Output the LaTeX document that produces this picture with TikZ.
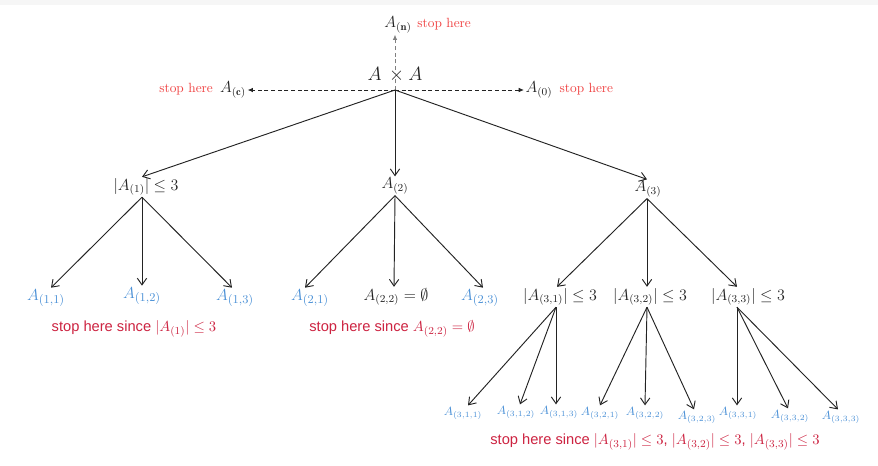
\documentclass[tikz,border=0pt]{standalone}
\usepackage{fontspec}
\newfontfamily\sansred{Liberation Sans}
\usetikzlibrary{arrows.meta,calc}
\definecolor{leafblue}{RGB}{75,145,215}
\definecolor{stopred}{RGB}{205,35,65}
\definecolor{topred}{RGB}{240,65,65}
\definecolor{ink}{RGB}{35,35,35}
\begin{document}
\begin{tikzpicture}[x=0.75pt,y=-0.75pt,
  lbl/.style={inner sep=1pt, text=ink, font=\fontsize{12}{14}\selectfont},
  leaf/.style={inner sep=1pt, text=leafblue, font=\fontsize{12.5}{14}\selectfont},
  sleaf/.style={inner sep=1pt, text=leafblue, font=\fontsize{9}{11}\selectfont},
  note/.style={inner sep=0pt, text=stopred, font=\sansred\fontsize{11}{13}\selectfont},
  topnote/.style={inner sep=0pt, text=topred, font=\fontsize{10}{12}\selectfont},
  toplbl/.style={inner sep=1pt, text=ink, font=\fontsize{12}{14}\selectfont},
  edge/.style={draw=ink, line width=0.7pt, -{Straight Barb[length=5pt,width=7pt]}},
  dedge/.style={draw=ink, line width=0.7pt, dash pattern=on 3pt off 2pt, -{Latex[length=4pt,width=3.5pt]}}
]
\useasboundingbox (0,0) rectangle (878,465);
\fill[white] (0,0) rectangle (878,465);
\fill[gray!7] (0,0) rectangle (878,5);

% top
\node[inner sep=1pt, text=ink, font=\fontsize{15}{17}\selectfont] (AA) at (395,75) {$A\,\times A$};
\coordinate (j) at (395,90);
\node[toplbl] (An) at (398,25) {$A_{(\mathbf{n})}$};
\node[topnote, anchor=base west] (sn) at ([xshift=3pt]An.base east) {stop here};
\node[toplbl] (Ac) at (233,90) {$A_{(\mathbf{c})}$};
\node[topnote, anchor=base east] (sc) at ([xshift=-4pt]Ac.base west) {stop here};
\node[toplbl] (A0) at (539,90) {$A_{(0)}$};
\node[topnote, anchor=base west] (s0) at ([xshift=4pt]A0.base east) {stop here};
\draw[dedge, draw=gray] (j) -- (j |- An.south);
\draw[dedge] (j) -- (Ac.east);
\draw[dedge] (j) -- (A0.west);

% level 1
\node[lbl] (n1) at (146,187) {$|A_{(1)}|\leq 3$};
\node[lbl] (n2) at (395,186) {$A_{(2)}$};
\node[lbl] (n3) at (648,189) {$A_{(3)}$};
\draw[edge] (j) -- ($(n1.north)+(-4,0)$);
\draw[edge] (j) -- (n2.north);
\draw[edge] (j) -- ($(n3.north)+(-1,0)$);

% level 2
\node[leaf] (n11) at (46,298) {$A_{(1,1)}$};
\node[leaf] (n12) at (142,296) {$A_{(1,2)}$};
\node[leaf] (n13) at (235,298) {$A_{(1,3)}$};
\node[leaf] (n21) at (310,298) {$A_{(2,1)}$};
\node[lbl]  (n22) at (396,297) {$A_{(2,2)}=\emptyset$};
\node[leaf] (n23) at (480,298) {$A_{(2,3)}$};
\node[lbl]  (n31) at (560,297) {$|A_{(3,1)}|\leq 3$};
\node[lbl]  (n32) at (650,297) {$|A_{(3,2)}|\leq 3$};
\node[lbl]  (n33) at (748,297) {$|A_{(3,3)}|\leq 3$};

\coordinate (p1) at ($(n1.south)+(-4,0)$);
\coordinate (p2) at (n2.south);
\coordinate (p3) at ($(n3.south)+(-1,0)$);
\draw[edge] (p1) -- ($(n11.north)+(5,0)$);
\draw[edge] (p1) -- (n12.north);
\draw[edge] (p1) -- ($(n13.north)+(-3,0)$);
\draw[edge] (p2) -- ($(n21.north)+(-5,0)$);
\draw[edge] (p2) -- ($(n22.north)+(-2,0)$);
\draw[edge] (p2) -- ($(n23.north)+(3,0)$);
\draw[edge] (p3) -- ($(n31.north)+(-3,0)$);
\draw[edge] (p3) -- ($(n32.north)+(-3,0)$);
\draw[edge] (p3) -- ($(n33.north)+(-11,0)$);

% level 3
\node[sleaf] (n311) at (463,413) {$A_{(3,1,1)}$};
\node[sleaf] (n312) at (516,412) {$A_{(3,1,2)}$};
\node[sleaf] (n313) at (559,412) {$A_{(3,1,3)}$};
\node[sleaf] (n321) at (600,413) {$A_{(3,2,1)}$};
\node[sleaf] (n322) at (645,413) {$A_{(3,2,2)}$};
\node[sleaf] (n323) at (697,417) {$A_{(3,2,3)}$};
\node[sleaf] (n331) at (738,413) {$A_{(3,3,1)}$};
\node[sleaf] (n332) at (790,416) {$A_{(3,3,2)}$};
\node[sleaf] (n333) at (841,417) {$A_{(3,3,3)}$};

\coordinate (q1) at ($(n31.south)+(-4,0)$);
\coordinate (q2) at ($(n32.south)+(-3,0)$);
\coordinate (q3) at ($(n33.south)+(-11,0)$);
\draw[edge] (q1) -- ($(n311.north)+(5,0)$);
\draw[edge] (q1) -- ($(n312.north)+(4,0)$);
\draw[edge] (q1) -- ($(n313.north)+(-3,0)$);
\draw[edge] (q2) -- (n321.north);
\draw[edge] (q2) -- (n322.north);
\draw[edge] (q2) -- ($(n323.north)+(-3,0)$);
\draw[edge] (q3) -- ($(n331.north)+(-1,0)$);
\draw[edge] (q3) -- ($(n332.north)+(-2,0)$);
\draw[edge] (q3) -- ($(n333.north)+(-3,0)$);

% notes
\node[note] (s1) at (134,329) {stop here since $|A_{(1)}|\leq 3$};
\node[note] (s2) at (392,329) {stop here since $A_{(2,2)}=\emptyset$};
\node[note] (s3) at (655,442) {stop here since $|A_{(3,1)}|\leq 3$, $|A_{(3,2)}|\leq 3$, $|A_{(3,3)}|\leq 3$};
\end{tikzpicture}
\end{document}
